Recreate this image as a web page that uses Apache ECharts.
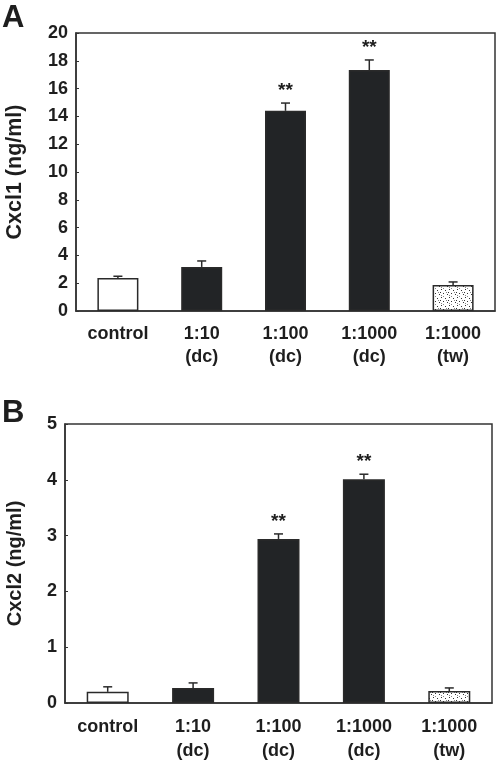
<!DOCTYPE html>
<html>
<head>
<meta charset="utf-8">
<script src="https://cdn.jsdelivr.net/npm/echarts@6/dist/echarts.min.js"></script>
<style>
html,body{margin:0;padding:0;background:#fff;}
#chart{width:498px;height:761px;}
</style>
</head>
<body>
<div id="chart"></div>
<script>
const categories = ['control', '1:10\n(dc)', '1:100\n(dc)', '1:1000\n(dc)', '1:1000\n(tw)'];
const cxcl1Values = [2.37, 3.17, 14.4, 17.34, 1.87];
const cxcl1Errors = [0.13, 0.43, 0.56, 0.72, 0.22];
const cxcl2Values = [0.2, 0.27, 2.94, 4.01, 0.215];
const cxcl2Errors = [0.09, 0.09, 0.09, 0.09, 0.055];
const significance = ['', '', '**', '**', ''];
const cxcl1Axis = { min: 0, max: 20, interval: 2 };
const cxcl2Axis = { min: 0, max: 5, interval: 1 };

const FONT = '"Liberation Sans", Arial, sans-serif';
const DARK = '#222426';
const INK = '#1e1e1e';

// dotted pattern for the tw bar
const pat = document.createElement('canvas');
pat.width = 8; pat.height = 8;
const pctx = pat.getContext('2d');
pctx.fillStyle = '#ffffff'; pctx.fillRect(0, 0, 8, 8);
pctx.fillStyle = '#333';
[[1,1],[5,2],[3,5],[7,6],[0,4]].forEach(p => pctx.fillRect(p[0], p[1], 1, 1));
pctx.fillStyle = '#888';
[[3,0],[6,4],[1,7]].forEach(p => pctx.fillRect(p[0], p[1], 1, 1));

function barData(values) {
  return values.map((v, i) => {
    let color = DARK;
    if (i === 0) color = '#ffffff';
    if (i === 4) color = { image: pat, repeat: 'repeat' };
    return { value: v, itemStyle: { color: color, borderColor: '#2a2a2a', borderWidth: 1.5 } };
  });
}
function errData(values, errors) {
  return values.map((v, i) => [i, v, v + errors[i], significance[i]]);
}
function errRender(params, api) {
  const x = api.value(0);
  const base = api.coord([x, api.value(1)]);
  const top = api.coord([x, api.value(2)]);
  const cap = 4.5;
  const children = [
    { type: 'line', shape: { x1: base[0], y1: base[1], x2: top[0], y2: top[1] }, style: { stroke: '#2a2a2a', lineWidth: 1.5 } },
    { type: 'line', shape: { x1: top[0] - cap, y1: top[1], x2: top[0] + cap, y2: top[1] }, style: { stroke: '#2a2a2a', lineWidth: 1.5 } }
  ];
  const sig = significance[params.dataIndex];
  if (sig) {
    children.push({ type: 'text', style: { text: sig, x: top[0], y: top[1] - 3, align: 'center', verticalAlign: 'bottom', font: 'bold 19px ' + FONT, fill: INK } });
  }
  return { type: 'group', children: children };
}

const axisLabelStyle = { color: INK, fontFamily: FONT, fontWeight: 'bold' };

function xAxisDef(gridIndex, lineHeight, margin) {
  return {
    type: 'category', gridIndex: gridIndex, data: categories,
    axisLine: { lineStyle: { color: '#333', width: 1.5 } },
    axisTick: { show: false },
    axisLabel: Object.assign({ fontSize: 18, lineHeight: lineHeight, margin: margin, interval: 0 }, axisLabelStyle)
  };
}
function yAxisDef(gridIndex, ax, name, nameGap, labelSize, nameSize) {
  return {
    type: 'value', gridIndex: gridIndex, min: ax.min, max: ax.max, interval: ax.interval,
    name: name, nameLocation: 'middle', nameGap: nameGap,
    nameTextStyle: { color: INK, fontFamily: FONT, fontWeight: 'bold', fontSize: nameSize },
    axisLine: { show: true, lineStyle: { color: '#333', width: 1.5 } },
    axisTick: { show: true, inside: true, length: 3, lineStyle: { color: '#333' } },
    splitLine: { show: false },
    axisLabel: Object.assign({ fontSize: labelSize, margin: 8 }, axisLabelStyle)
  };
}

const chart = echarts.init(document.getElementById('chart'), null, { renderer: 'canvas' });
chart.setOption({
  animation: false,
  backgroundColor: '#ffffff',
  graphic: [
    { type: 'text', left: 2, top: 3, style: { text: 'A', font: 'bold 31px ' + FONT, fill: INK } },
    { type: 'text', left: 2, top: 398, style: { text: 'B', font: 'bold 31px ' + FONT, fill: INK } }
  ],
  grid: [
    { left: 76, top: 33, width: 419, height: 278, show: true, borderColor: '#333', borderWidth: 1.5, containLabel: false, outerBoundsMode: 'none' },
    { left: 65, top: 424, width: 427, height: 279, show: true, borderColor: '#333', borderWidth: 1.5, containLabel: false, outerBoundsMode: 'none' }
  ],
  xAxis: [xAxisDef(0, 23, 12), xAxisDef(1, 24, 12)],
  yAxis: [
    yAxisDef(0, cxcl1Axis, 'Cxcl1 (ng/ml)', 50, 18, 21.5),
    yAxisDef(1, cxcl2Axis, 'Cxcl2 (ng/ml)', 40, 18, 20)
  ],
  series: [
    { type: 'bar', xAxisIndex: 0, yAxisIndex: 0, data: barData(cxcl1Values), barWidth: 41 },
    { type: 'custom', xAxisIndex: 0, yAxisIndex: 0, data: errData(cxcl1Values, cxcl1Errors), renderItem: errRender, z: 3 },
    { type: 'bar', xAxisIndex: 1, yAxisIndex: 1, data: barData(cxcl2Values), barWidth: 42 },
    { type: 'custom', xAxisIndex: 1, yAxisIndex: 1, data: errData(cxcl2Values, cxcl2Errors), renderItem: errRender, z: 3 }
  ]
});
</script>
</body>
</html>
